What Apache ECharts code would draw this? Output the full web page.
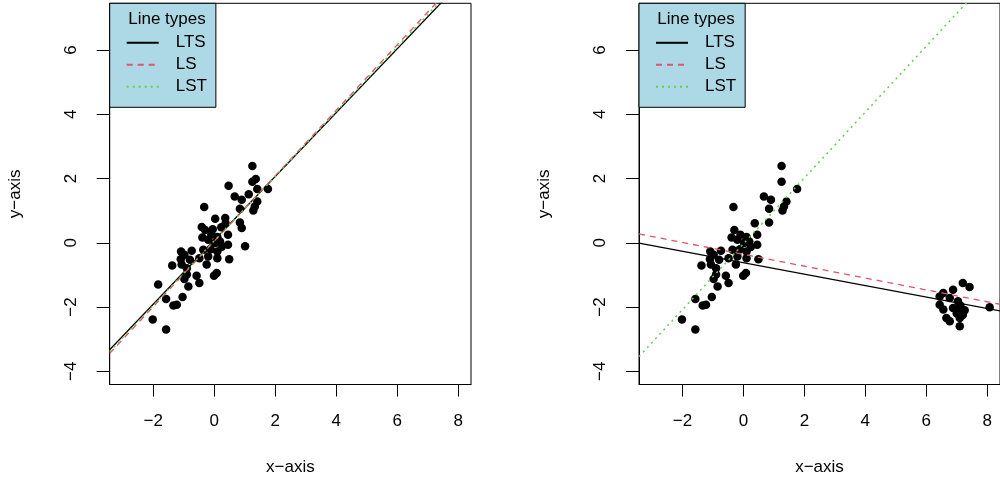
<!DOCTYPE html>
<html>
<head>
<meta charset="utf-8">
<script src="https://cdn.jsdelivr.net/npm/echarts@6/dist/echarts.min.js"></script>
<style>
html,body{margin:0;padding:0;background:#fff;}
#chart{width:1000px;height:487px;}
</style>
</head>
<body>
<div id="chart"></div>
<script>
// ---- data ----
const xTicks = [-2, 0, 2, 4, 6, 8];
const yTicks = [-4, -2, 0, 2, 4, 6];
const xRange = [-3.43, 8.42];
const yRange = [-4.41, 7.45];

// points shared by both panels
const clusterX = [1.25,1.25,1.76,0.67,0.90,1.41,1.33,-0.33,0.84,1.28,0.37,0.84,-0.30,-0.10,0.45,-0.39,0.10,-0.20,0.19,0.02,0.45,0.24,-0.36,-0.12,-1.09,-0.74,-0.98,0.10,-0.80,-1.10,-1.38,-1.07,-0.49,-0.20,0.10,0.49,-0.25,-0.90,-0.90,-0.58,0.08,-0.01,-0.98,-0.49,-0.85,-1.58,-1.04,-1.34,-1.23,-2.02,-1.58];
const clusterY = [2.39,1.90,1.67,1.44,1.34,1.28,1.13,1.11,1.06,1.00,0.61,0.63,0.40,0.25,0.25,0.16,0.18,0.09,0.04,-0.01,-0.06,-0.13,-0.22,-0.20,-0.27,-0.25,-0.37,-0.27,-0.53,-0.51,-0.71,-0.68,-0.48,-0.43,-0.48,-0.51,-0.68,-0.79,-0.99,-1.03,-0.94,-1.03,-1.13,-1.25,-1.36,-1.75,-1.69,-1.95,-1.93,-2.39,-2.70];
// points only in the left (clean) panel
const cleanX = [1.36,0.47,1.41,1.13,0.03,0.36,0.90,-0.41,-0.05,0.23,1.01,-1.84];
const cleanY = [1.98,1.77,1.67,1.51,0.75,0.77,0.46,0.49,0.42,0.48,-0.11,-1.30];
// outliers only in the right (contaminated) panel
const outlierX = [7.20,7.42,6.88,6.56,6.44,6.77,7.04,6.44,7.12,6.88,7.10,7.26,6.56,8.08,7.00,6.66,6.77,7.10,7.10,7.20];
const outlierY = [-1.25,-1.38,-1.46,-1.56,-1.67,-1.72,-1.82,-1.93,-1.95,-2.03,-2.06,-2.10,-2.08,-2.01,-2.20,-2.34,-2.44,-2.34,-2.60,-2.25];

// fitted lines: [intercept, slope]
const fitNames = ['LTS', 'LS', 'LST'];
const leftFits = [[0.076, 0.993], [0.05, 1.018], [0.06, 1.005]];
const rightFits = [[-0.62, -0.178], [-0.36, -0.1845], [-0.03, 1.024]];

// ---- styling ----
const FONT = 'Liberation Sans, Arial, Helvetica, sans-serif';
const fitStyles = [
  {color: '#000000', type: 'solid', width: 1.3},
  {color: '#DF536B', type: [6, 5], width: 1.3},
  {color: '#61D04F', type: [2, 4], width: 1.5}
];
const minus = v => String(v).replace('-', '\u2212');

const chart = echarts.init(document.getElementById('chart'), null, {renderer: 'canvas'});

const grids = [
  {left: 109.7, top: 3.3, width: 361.3, height: 381.2},
  {left: 639, top: 3.3, width: 362, height: 381.2}
];

function xAxisFor(i) {
  return {
    gridIndex: i, type: 'value', min: xRange[0], max: xRange[1],
    splitLine: {show: false},
    axisLine: {show: true, onZero: false, lineStyle: {color: '#000', width: 1}},
    axisTick: {show: true, length: 12, customValues: xTicks, lineStyle: {color: '#000', width: 1}},
    axisLabel: {customValues: xTicks, margin: 28, fontSize: 17, color: '#000', fontFamily: FONT, formatter: minus},
    name: 'x\u2212axis', nameLocation: 'middle', nameGap: 74,
    nameTextStyle: {fontSize: 17, color: '#000', fontFamily: FONT}
  };
}
function yAxisFor(i) {
  return {
    gridIndex: i, type: 'value', min: yRange[0], max: yRange[1],
    splitLine: {show: false},
    axisLine: {show: true, onZero: false, lineStyle: {color: '#000', width: 1}},
    axisTick: {show: true, length: 13, customValues: yTicks, lineStyle: {color: '#000', width: 1}},
    axisLabel: {customValues: yTicks, margin: 30, rotate: 90, fontSize: 17, color: '#000', fontFamily: FONT, formatter: minus},
    name: 'y\u2212axis', nameLocation: 'middle', nameGap: 86, nameRotate: 90,
    nameTextStyle: {fontSize: 17, color: '#000', fontFamily: FONT}
  };
}

function pts(xs, ys) { return xs.map((x, k) => [x, ys[k]]); }

function fitSeries(fits, gi) {
  return fits.map((f, k) => ({
    name: fitNames[k], type: 'line', xAxisIndex: gi, yAxisIndex: gi,
    symbol: 'none', silent: true, clip: true, z: 5,
    lineStyle: fitStyles[k], itemStyle: {color: fitStyles[k].color},
    data: [[xRange[0], f[0] + f[1] * xRange[0]], [xRange[1], f[0] + f[1] * xRange[1]]]
  }));
}

const scatterStyle = {color: '#000', opacity: 1};
const series = [
  {type: 'scatter', xAxisIndex: 0, yAxisIndex: 0, symbolSize: 8.5, itemStyle: scatterStyle,
   data: pts(clusterX, clusterY).concat(pts(cleanX, cleanY)), z: 2},
  ...fitSeries(leftFits, 0),
  {type: 'scatter', xAxisIndex: 1, yAxisIndex: 1, symbolSize: 8.5, itemStyle: scatterStyle,
   data: pts(clusterX, clusterY).concat(pts(outlierX, outlierY)), z: 2},
  ...fitSeries(rightFits, 1)
];

function legendFor(left) {
  return {
    left: left, top: 3.3, orient: 'vertical',
    data: fitNames, selectedMode: false,
    backgroundColor: '#ADD8E6', borderColor: '#000', borderWidth: 1, borderRadius: 0,
    padding: [31, 9, 12, 16],
    itemWidth: 32, itemHeight: 14, itemGap: 5,
    itemStyle: {opacity: 0},
    textStyle: {fontSize: 17, color: '#000', fontFamily: FONT, padding: [0, 0, 0, 12]}
  };
}

const option = {
  animation: false,
  backgroundColor: '#fff',
  grid: grids.map(g => Object.assign({show: true, borderColor: '#000', borderWidth: 1, backgroundColor: 'transparent'}, g)),
  xAxis: [xAxisFor(0), xAxisFor(1)],
  yAxis: [yAxisFor(0), yAxisFor(1)],
  legend: [legendFor(109.7), legendFor(639)],
  title: [
    {text: 'Line types', left: 162, top: 6, textAlign: 'center',
     textStyle: {fontSize: 17, fontWeight: 'normal', color: '#000', fontFamily: FONT}},
    {text: 'Line types', left: 691, top: 6, textAlign: 'center',
     textStyle: {fontSize: 17, fontWeight: 'normal', color: '#000', fontFamily: FONT}}
  ],
  series: series
};
chart.setOption(option);
</script>
</body>
</html>
